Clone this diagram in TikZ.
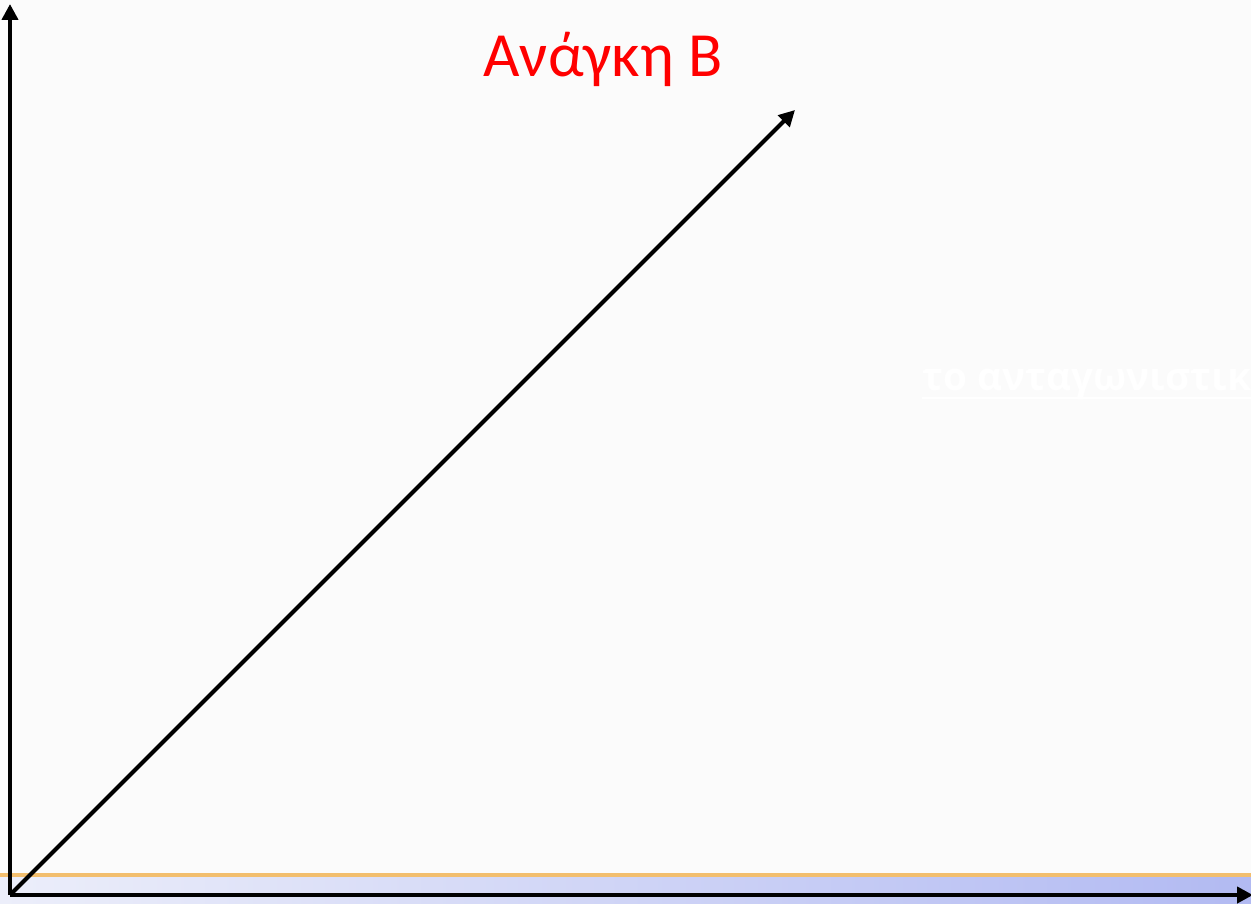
\documentclass[tikz,border=0pt]{standalone}
\usepackage{fontspec}
\setmainfont{Carlito}
\newfontfamily\hintfont{Open Sans}
\usepackage{xcolor}
\usepackage{tikz}
\usetikzlibrary{arrows.meta, calc}
\definecolor{figBg}{RGB}{251,251,251}
\definecolor{figRed}{RGB}{255,0,0}
\definecolor{figOrange}{RGB}{242,190,110}
\definecolor{figBandL}{RGB}{236,238,250}
\definecolor{figBandR}{RGB}{178,186,242}
\tikzset{axisline/.style={line width=1.2pt, black, -{Triangle[length=1.6mm, width=1.6mm]}}}

\begin{document}
\begin{tikzpicture}[scale=1.0]
% background
\fill[figBg] (0,0) rectangle (12.51,9.03);
\useasboundingbox (0,0) rectangle (12.51,9.03);
% bottom band
\shade[left color=figBandL, right color=figBandR] (0,0) rectangle (12.51,0.26);
\draw[figOrange, line width=1.4pt] (0,0.28) -- (12.51,0.28);
% faint text
\node[white, font=\hintfont\bfseries\fontsize{11}{13}\selectfont, anchor=base west, inner sep=0pt] (hint) at (9.22,5.13) {το ανταγωνιστικ};
\draw[white, line width=0.8pt] ($(hint.base west)+(0,-0.08)$) -- ($(hint.base east)+(0,-0.08)$);
% axes
\coordinate (orig) at (0.10,0.08);
\coordinate (ytip) at (0.10,8.99);
\coordinate (xtip) at (12.53,0.08);
\coordinate (btip) at (7.95,7.93);
\draw[axisline] (orig) -- (ytip);
\draw[axisline] (orig) -- (xtip);
\draw[axisline] (orig) -- (btip);
% label
\node[figRed, font=\fontsize{17.9}{21}\selectfont, anchor=base] (needB) at (6.03,8.26) {Ανάγκη Β};
\end{tikzpicture}
\end{document}
